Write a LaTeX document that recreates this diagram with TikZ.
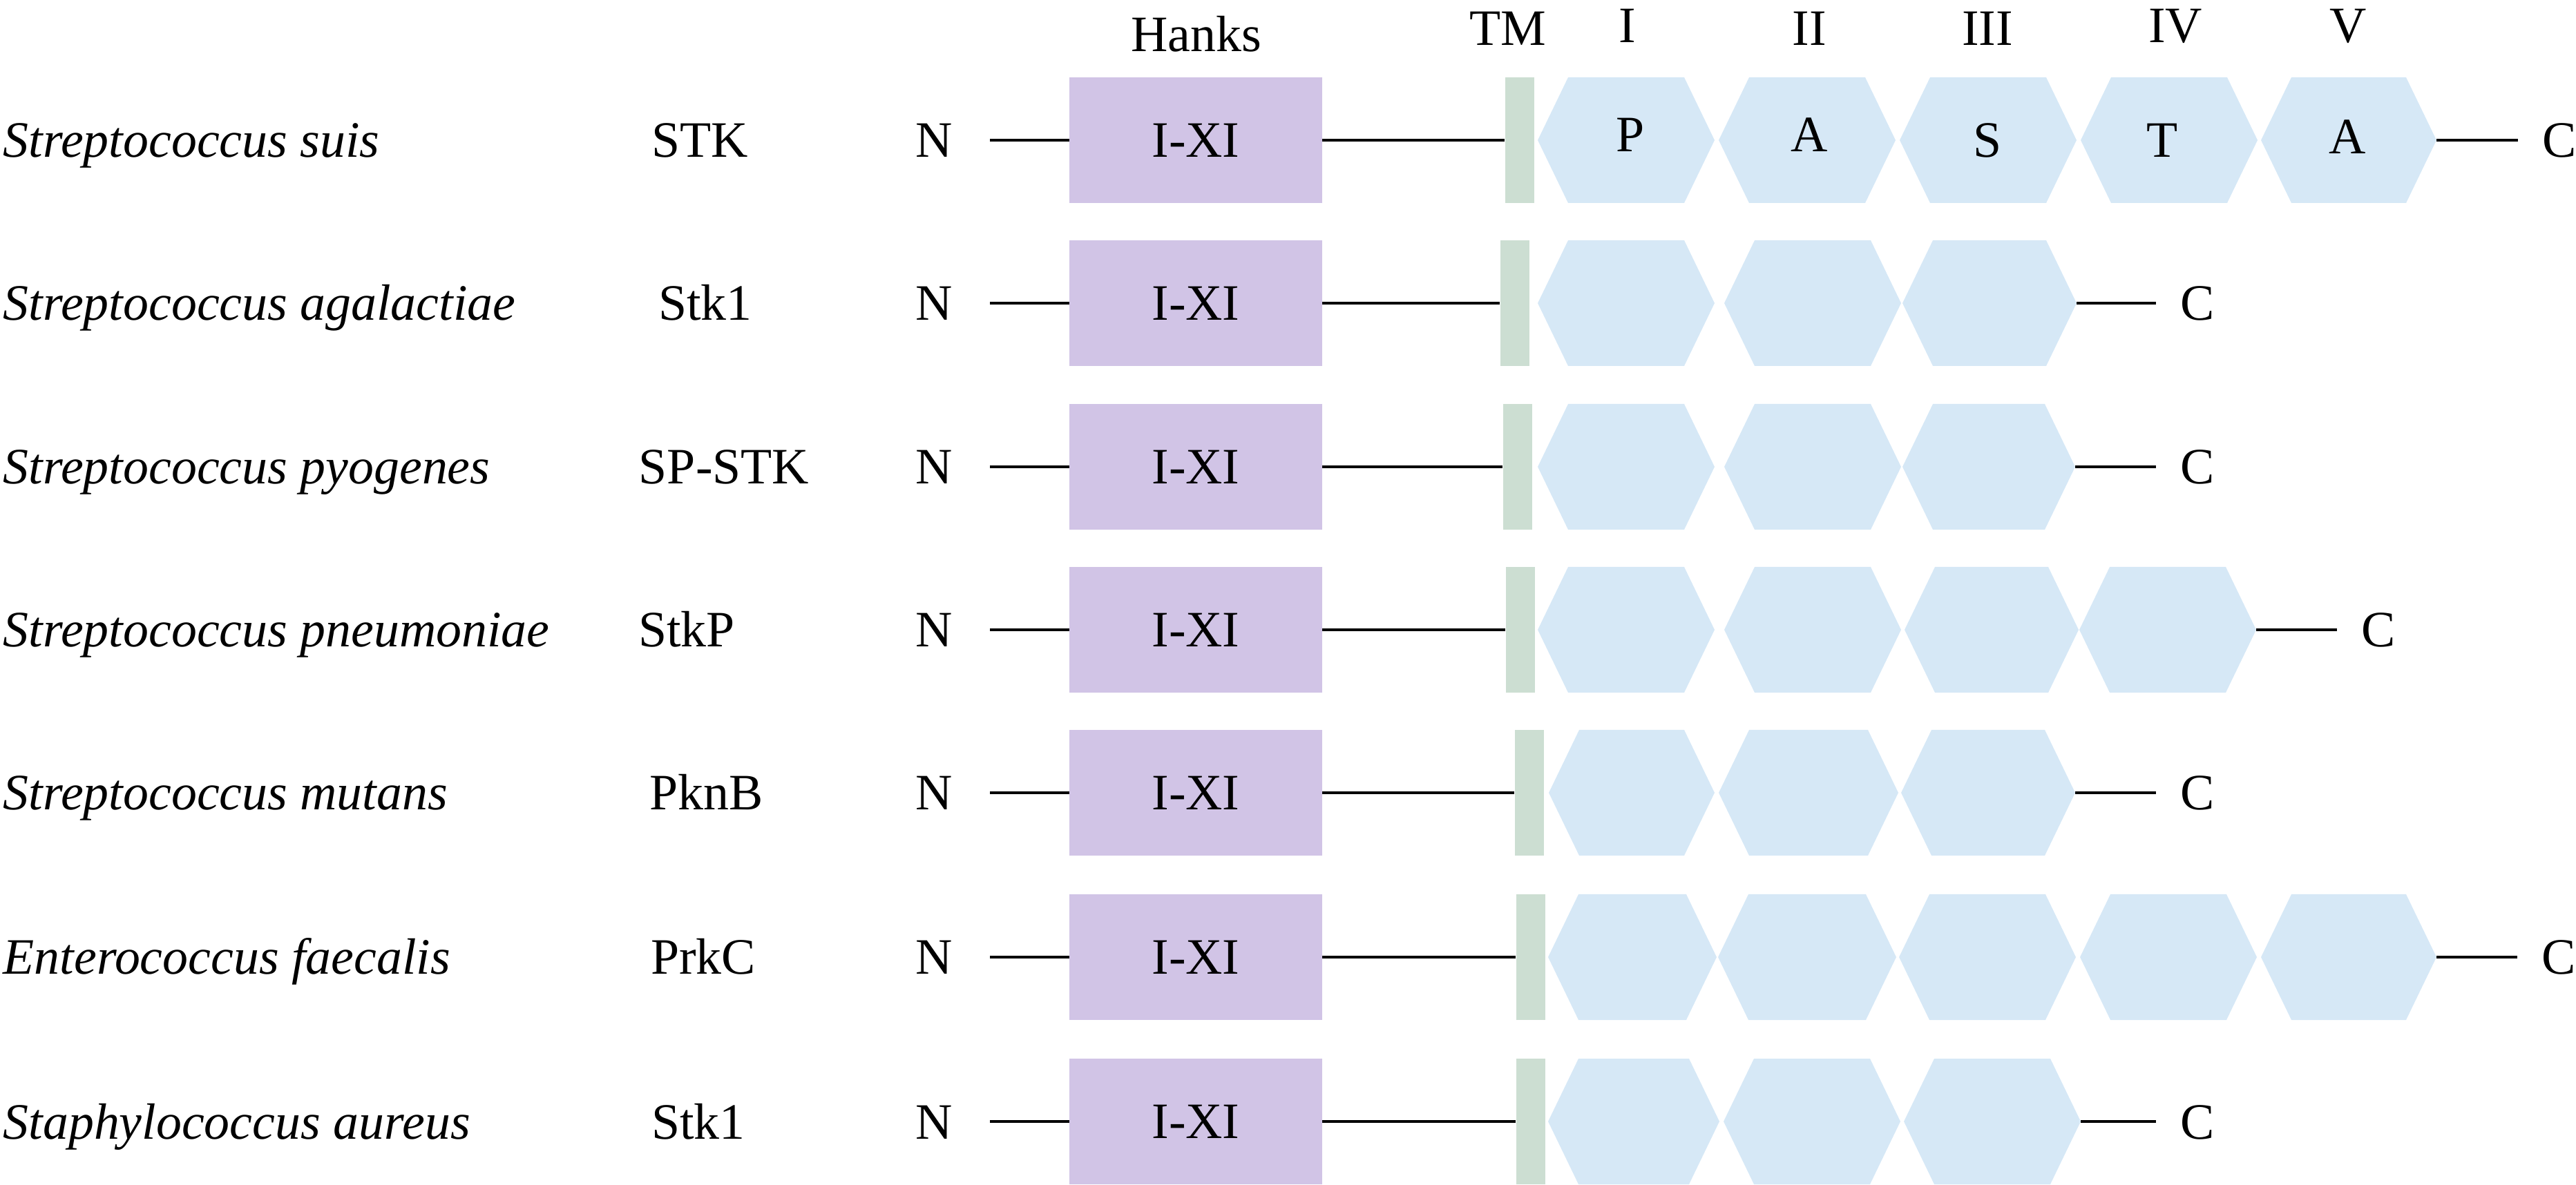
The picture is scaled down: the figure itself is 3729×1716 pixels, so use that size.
\documentclass[tikz,border=0pt]{standalone}
\usepackage{fontspec}
\setmainfont{Liberation Serif}
\definecolor{hankscol}{RGB}{209,196,230}
\definecolor{tmcol}{RGB}{204,222,210}
\definecolor{pastacol}{RGB}{214,232,246}
% #1 name, #2 x centre, #3 y centre, #4 half width
\newcommand{\pastahex}[4]{%
  \fill[pastacol] (#2-#4,#3) -- (#2-#4+44,#3-91) -- (#2+#4-44,#3-91) -- (#2+#4,#3)
     -- (#2+#4-44,#3+91) -- (#2-#4+44,#3+91) -- cycle;
  \coordinate (#1w) at (#2-#4,#3);
  \coordinate (#1e) at (#2+#4,#3);}
\begin{document}
\begin{tikzpicture}[x=0.01cm,y=-0.01cm,
  every node/.style={font=\fontsize{21}{25}\selectfont, inner sep=0pt},
  hanksbox/.style={fill=hankscol, minimum width=3.65cm, minimum height=1.82cm},
  tmbar/.style={fill=tmcol, minimum width=0.42cm, minimum height=1.82cm},
  conn/.style={line width=1.2pt, black},
  lbl/.style={anchor=base},
  species/.style={anchor=base west, font=\fontsize{21}{25}\selectfont\itshape}]
\useasboundingbox (0,0) rectangle (3729,1716);

% header
\node[lbl] (hHanks) at (1732,75) {Hanks};
\node[lbl] (hTM) at (2183,66) {TM};
\node[lbl] (hI) at (2356,62) {I};
\node[lbl] (hII) at (2619,66) {II};
\node[lbl] (hIII) at (2877,66) {III};
\node[lbl] (hIV) at (3149,62) {IV};
\node[lbl] (hV) at (3399,62) {V};

% ---------- row 1 ----------
\node[species] (sp1) at (4,228) {Streptococcus suis};
\node[lbl] (pr1) at (1013,228) {STK};
\node[lbl] (N1) at (1352,228) {N};
\node[hanksbox] (box1) at (1731,203) {I-XI};
\node[tmbar] (tm1) at (2200,203) {};
\pastahex{r1a}{2354}{203}{128}
\pastahex{r1b}{2616}{203}{128}
\pastahex{r1c}{2878}{203}{128}
\pastahex{r1d}{3140}{203}{128}
\pastahex{r1e}{3400}{203}{127}
\node[lbl] (L1a) at (2360,220) {P};
\node[lbl] (L1b) at (2619,220) {A};
\node[lbl] (L1c) at (2877,228) {S};
\node[lbl] (L1d) at (3130,228) {T};
\node[lbl] (L1e) at (3398,223) {A};
\node[lbl] (C1) at (3705,228) {C};
\draw[conn, shorten <=0.54cm] (N1.east |- box1.west) -- (box1.west);
\draw[conn] (box1.east) -- (tm1.west);
\draw[conn, shorten >=0.35cm] (r1ee) -- (C1.west |- r1ee);

% ---------- row 2 ----------
\node[species] (sp2) at (4,464) {Streptococcus agalactiae};
\node[lbl] (pr2) at (1021,464) {Stk1};
\node[lbl] (N2) at (1352,464) {N};
\node[hanksbox] (box2) at (1731,439) {I-XI};
\node[tmbar] (tm2) at (2193,439) {};
\pastahex{r2a}{2354}{439}{128}
\pastahex{r2b}{2624}{439}{128}
\pastahex{r2c}{2880}{439}{126}
\node[lbl] (C2) at (3181,464) {C};
\draw[conn, shorten <=0.54cm] (N2.east |- box2.west) -- (box2.west);
\draw[conn] (box2.east) -- (tm2.west);
\draw[conn, shorten >=0.35cm] (r2ce) -- (C2.west |- r2ce);

% ---------- row 3 ----------
\node[species] (sp3) at (4,701) {Streptococcus pyogenes};
\node[lbl] (pr3) at (1048,701) {SP-STK};
\node[lbl] (N3) at (1352,701) {N};
\node[hanksbox] (box3) at (1731,676) {I-XI};
\node[tmbar] (tm3) at (2197,676) {};
\pastahex{r3a}{2354}{676}{128}
\pastahex{r3b}{2624}{676}{128}
\pastahex{r3c}{2879}{676}{125}
\node[lbl] (C3) at (3181,701) {C};
\draw[conn, shorten <=0.54cm] (N3.east |- box3.west) -- (box3.west);
\draw[conn] (box3.east) -- (tm3.west);
\draw[conn, shorten >=0.35cm] (r3ce) -- (C3.west |- r3ce);

% ---------- row 4 ----------
\node[species] (sp4) at (4,937) {Streptococcus pneumoniae};
\node[lbl] (pr4) at (994,937) {StkP};
\node[lbl] (N4) at (1352,937) {N};
\node[hanksbox] (box4) at (1731,912) {I-XI};
\node[tmbar] (tm4) at (2201,912) {};
\pastahex{r4a}{2354}{912}{128}
\pastahex{r4b}{2624}{912}{128}
\pastahex{r4c}{2883}{912}{126}
\pastahex{r4d}{3138}{912}{128}
\node[lbl] (C4) at (3443,937) {C};
\draw[conn, shorten <=0.54cm] (N4.east |- box4.west) -- (box4.west);
\draw[conn] (box4.east) -- (tm4.west);
\draw[conn, shorten >=0.35cm] (r4de) -- (C4.west |- r4de);

% ---------- row 5 ----------
\node[species] (sp5) at (4,1173) {Streptococcus mutans};
\node[lbl] (pr5) at (1023,1173) {PknB};
\node[lbl] (N5) at (1352,1173) {N};
\node[hanksbox] (box5) at (1731,1148) {I-XI};
\node[tmbar] (tm5) at (2214,1148) {};
\pastahex{r5a}{2362}{1148}{120}
\pastahex{r5b}{2618}{1148}{130}
\pastahex{r5c}{2878}{1148}{126}
\node[lbl] (C5) at (3181,1173) {C};
\draw[conn, shorten <=0.54cm] (N5.east |- box5.west) -- (box5.west);
\draw[conn] (box5.east) -- (tm5.west);
\draw[conn, shorten >=0.35cm] (r5ce) -- (C5.west |- r5ce);

% ---------- row 6 ----------
\node[species] (sp6) at (4,1410) {Enterococcus faecalis};
\node[lbl] (pr6) at (1018,1410) {PrkC};
\node[lbl] (N6) at (1352,1410) {N};
\node[hanksbox] (box6) at (1731,1386) {I-XI};
\node[tmbar] (tm6) at (2216,1386) {};
\pastahex{r6a}{2363}{1386}{122}
\pastahex{r6b}{2616}{1386}{129}
\pastahex{r6c}{2877}{1386}{128}
\pastahex{r6d}{3139}{1386}{128}
\pastahex{r6e}{3400}{1386}{127}
\node[lbl] (C6) at (3704,1410) {C};
\draw[conn, shorten <=0.54cm] (N6.east |- box6.west) -- (box6.west);
\draw[conn] (box6.east) -- (tm6.west);
\draw[conn, shorten >=0.35cm] (r6ee) -- (C6.west |- r6ee);

% ---------- row 7 ----------
\node[species] (sp7) at (4,1649) {Staphylococcus aureus};
\node[lbl] (pr7) at (1011,1649) {Stk1};
\node[lbl] (N7) at (1352,1649) {N};
\node[hanksbox] (box7) at (1731,1624) {I-XI};
\node[tmbar] (tm7) at (2216,1624) {};
\pastahex{r7a}{2365}{1624}{124}
\pastahex{r7b}{2623}{1624}{128}
\pastahex{r7c}{2884}{1624}{128}
\node[lbl] (C7) at (3181,1649) {C};
\draw[conn, shorten <=0.54cm] (N7.east |- box7.west) -- (box7.west);
\draw[conn] (box7.east) -- (tm7.west);
\draw[conn, shorten >=0.35cm] (r7ce) -- (C7.west |- r7ce);
\end{tikzpicture}
\end{document}
